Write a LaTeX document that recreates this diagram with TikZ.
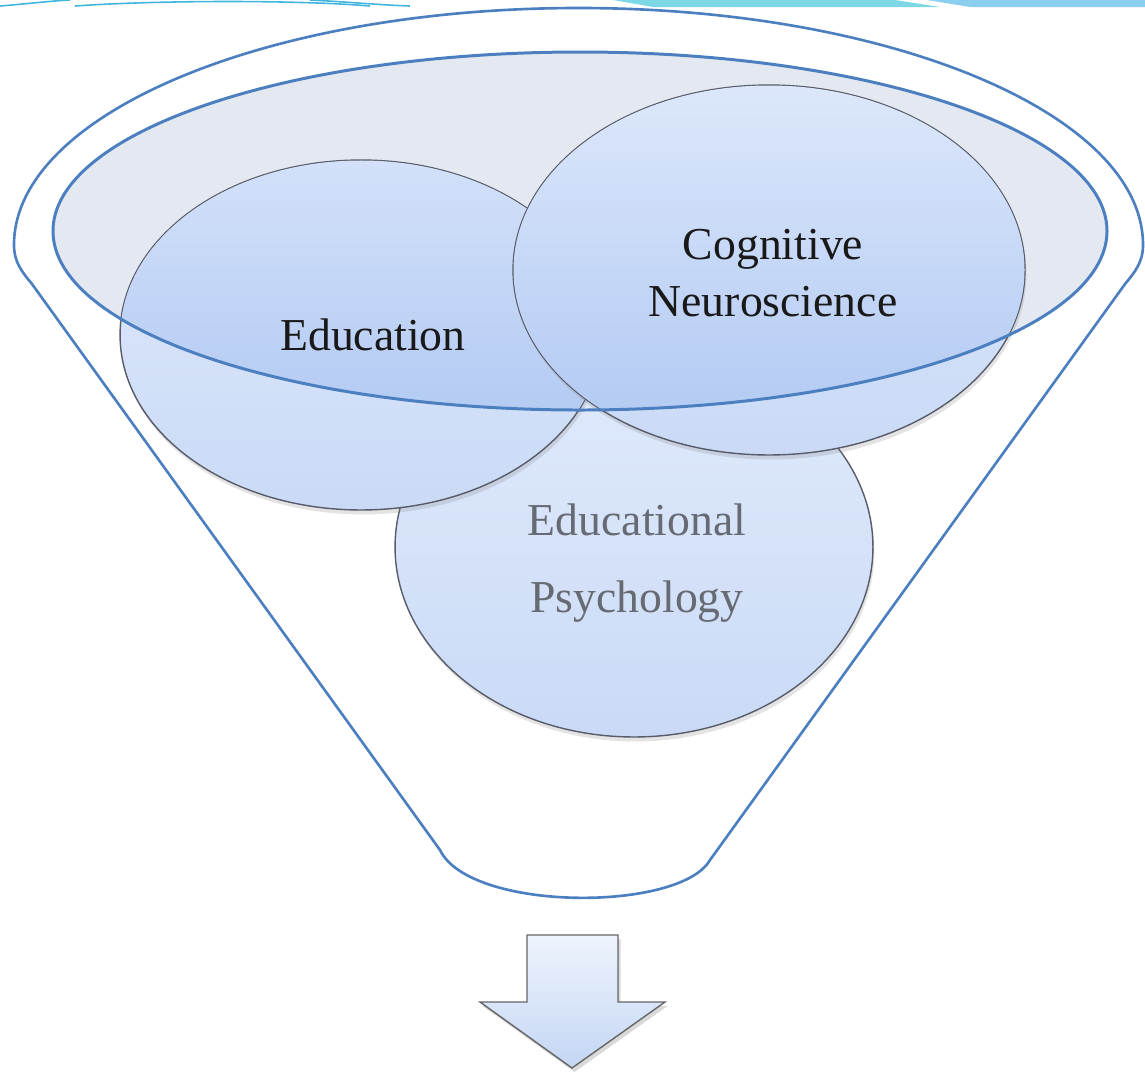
\documentclass[tikz,border=0pt]{standalone}
\usepackage{fontspec}
\setmainfont{Liberation Serif}
\usepackage{tikz}
\usetikzlibrary{shapes.geometric, shadows}

\definecolor{funnelblue}{RGB}{76,127,192}
\definecolor{bubbletop}{RGB}{224,234,252}
\definecolor{bubblebottom}{RGB}{202,218,246}
\definecolor{bubbledeep}{RGB}{180,203,243}
\definecolor{bubbleline}{RGB}{88,92,105}
\definecolor{mouthgrey}{RGB}{228,232,240}
\definecolor{greytext}{RGB}{102,106,114}
\definecolor{bandcyan}{RGB}{125,216,230}
\definecolor{bandblue}{RGB}{138,207,240}
\definecolor{swirl}{RGB}{64,182,222}
\definecolor{arrowtop}{RGB}{238,244,253}
\definecolor{arrowbottom}{RGB}{196,214,244}

\tikzstyle{bubble} = [ellipse,
                      draw=bubbleline,
                      line width=0.8pt,
                      top color=bubbletop,
                      bottom color=bubblebottom,
                      drop shadow={shadow xshift=0.3mm, shadow yshift=-0.9mm, opacity=0.22},
                      inner sep=0pt,
                     ]
\tikzstyle{field} = [font=\fontsize{26}{32.4}\selectfont,
                     align=center,
                     text=black!90,
                     inner sep=0pt,
                    ]
\tikzstyle{funnel} = [draw=funnelblue, line width=1.5pt]
\tikzstyle{downarrow} = [draw=black!60,
                         line width=0.8pt,
                         top color=arrowtop,
                         bottom color=arrowbottom,
                         drop shadow={shadow xshift=0.5mm, shadow yshift=-0.8mm, opacity=0.3},
                        ]

\begin{document}
\begin{tikzpicture}[x=0.02cm, y=-0.02cm]

\useasboundingbox (0,0) rectangle (1145,1073);

% slide band along the top edge
\draw [swirl, line width=0.9pt] (0,6) .. controls (25,4) and (50,1) .. (70,0);
\draw [swirl, line width=0.9pt] (75,6) .. controls (160,0) and (300,0) .. (370,6);
\draw [swirl, line width=0.9pt] (310,0) .. controls (350,2) and (380,5) .. (410,6);
\fill [bandcyan] (613,0) -- (895,0) -- (940,7) -- (653,7) -- cycle;
\fill [bandblue] (927,0) -- (1145,0) -- (1145,7) -- (970,7) -- cycle;

% funnel outline
\draw [funnel] (1143,245) arc [start angle=0, end angle=-180, x radius=564.5, y radius=237]
      .. controls (14,262) and (22,272) .. (32,284)
      -- (440,850) .. controls (470,912) and (680,912) .. (710,860)
      -- (1125,284) .. controls (1135,272) and (1143,262) .. cycle;

% funnel mouth
\fill [mouthgrey] (580,231) ellipse [x radius=527, y radius=179];

% the three fields, each darker where it sits in the mouth
\node (edpsy) [bubble, minimum width=9.56cm, minimum height=7.6cm] at (634,547) {};
\node (edu) [bubble, minimum width=9.64cm, minimum height=7.0cm] at (361,335) {};
\begin{scope}
  \clip (580,231) ellipse [x radius=527, y radius=179];
  \clip (361,335) ellipse [x radius=240.5, y radius=174.5];
  \shade [top color=bubbletop, bottom color=bubbledeep] (100,52) rectangle (1110,410);
\end{scope}
\node (cogneuro) [bubble, minimum width=10.24cm, minimum height=7.4cm] at (769,270) {};
\begin{scope}
  \clip (580,231) ellipse [x radius=527, y radius=179];
  \clip (769,270) ellipse [x radius=255.5, y radius=184.5];
  \shade [top color=bubbletop, bottom color=bubbledeep] (100,52) rectangle (1110,410);
\end{scope}
\draw [funnel, line width=1.7pt] (580,231) ellipse [x radius=527, y radius=179];

\node (edulabel) [field] at (373,335) {Education};
\node (cnlabel) [field] at (773,273) {Cognitive\\Neuroscience};
\node (eplabel) [field, font=\fontsize{26}{43.7}\selectfont, text=greytext] at (637,563) {Educational\\Psychology};

% output arrow
\draw [downarrow] (527,935) -- (618,935) -- (618,1002) -- (665,1002) -- (572,1068)
      -- (480,1002) -- (527,1002) -- cycle;

\end{tikzpicture}
\end{document}
